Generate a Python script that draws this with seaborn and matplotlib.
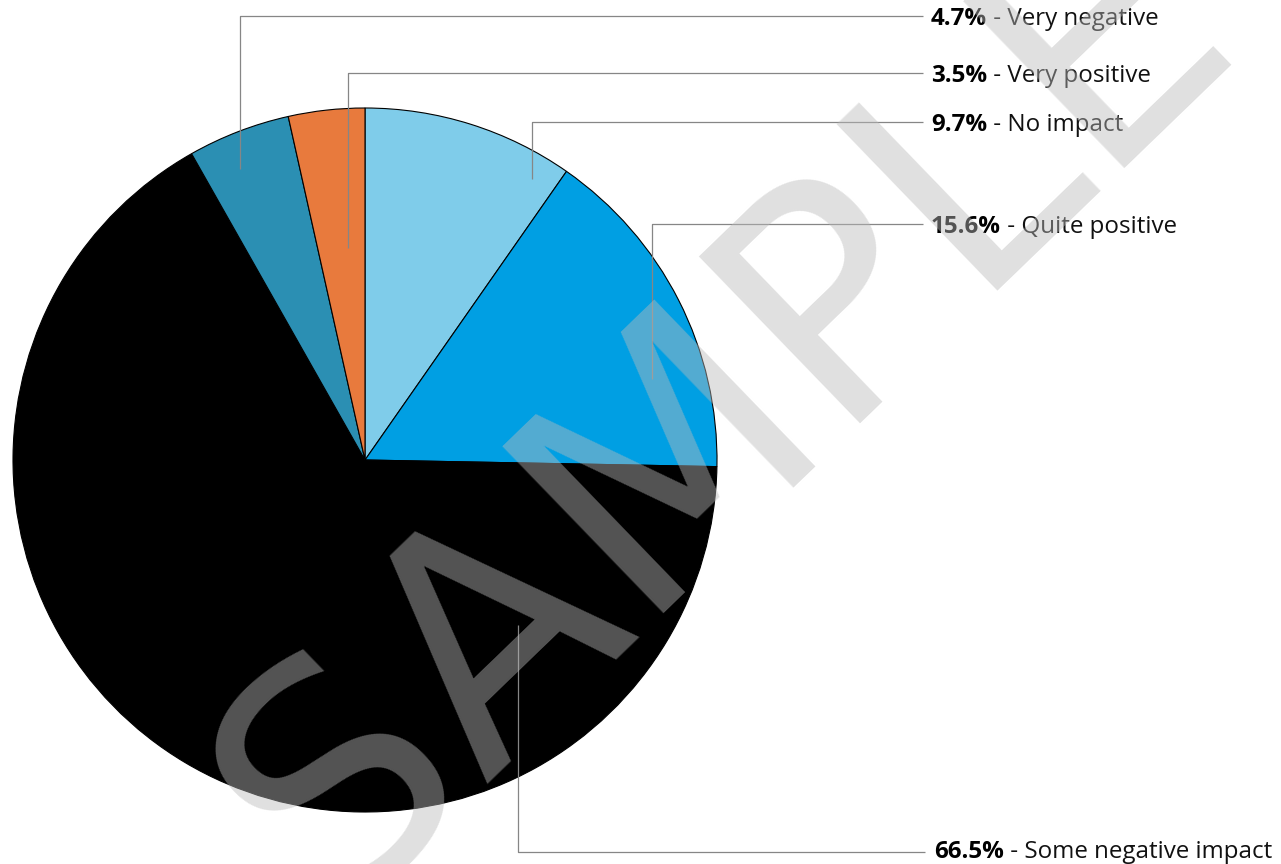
import matplotlib
matplotlib.use("Agg")
import matplotlib.pyplot as plt
import seaborn as sns

# Data
labels = ["No impact", "Quite positive", "Some negative impact", "Very negative", "Very positive"]
shares = [9.7, 15.6, 66.5, 4.7, 3.5]
colors = ["#7FCCEA", "#009FE3", "#000000", "#2B8FB3", "#E87A3D"]

# leader lines in screen pixels (y measured from the top):
# elbow x, start y inside the slice, label row y, end x of the line, text x
leaders = {
    "Very negative": (240, 169, 16, 923, 931),
    "Very positive": (348, 248, 73, 923, 931),
    "No impact": (532, 179, 122, 923, 931),
    "Quite positive": (652, 379, 224, 923, 931),
    "Some negative impact": (518, 625, 852, 925, 934),
}

W, H = 1281, 864

sns.set_theme(style="white")
plt.rcParams['font.family'] = ['Open Sans', 'DejaVu Sans']

fig = plt.figure(figsize=(W / 100, H / 100), dpi=100)
ax = fig.add_axes([0, 0, 1, 1])

ax.pie(shares, colors=colors, startangle=90, counterclock=False,
       center=(365, H - 460), radius=352,
       wedgeprops=dict(edgecolor="black", linewidth=0.8))
ax.set_xlim(0, W)
ax.set_ylim(0, H)
ax.set_aspect("equal")
ax.axis("off")

fig.canvas.draw()
renderer = fig.canvas.get_renderer()

for lab, v in zip(labels, shares):
    x0, y_start, y_row, x_end, x_text = leaders[lab]
    ax.plot([x0, x0, x_end], [H - y_start, H - y_row, H - y_row],
            color="#868686", lw=0.9, solid_capstyle="butt")
    base = H - min(y_row + 9, 858)
    t = ax.text(x_text, base, f"{v}%", fontsize=17.4, fontweight="bold",
                color="black", ha="left", va="baseline")
    bb = t.get_window_extent(renderer)
    ax.text(bb.x1, base, f" - {lab}", fontsize=17.4, color="#111111",
            ha="left", va="baseline")

# watermark
ax.text(786, H - 475, "SAMPLE", fontsize=228, family="DejaVu Sans",
        color="#BBBBBB", alpha=0.45, rotation=44, rotation_mode="anchor",
        ha="center", va="baseline", zorder=10)

fig.savefig("out.png", dpi=100)
